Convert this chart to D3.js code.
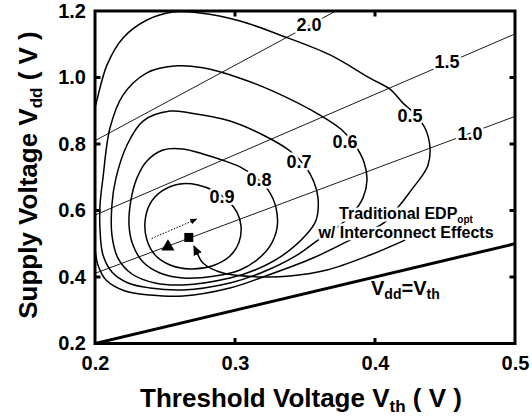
<!DOCTYPE html>
<html>
<head>
<meta charset="utf-8">
<script src="https://cdn.jsdelivr.net/npm/d3@7"></script>
<style>
  body { margin: 0; background: #fff; }
  svg text { font-family: "Liberation Sans", Arial, Helvetica, sans-serif; font-weight: bold; fill: #000; }
</style>
</head>
<body>
<svg id="chart" width="532" height="418"></svg>
<script>
// ---- axis ticks ----
const xTickValues = [0.2, 0.3, 0.4, 0.5];
const yTickValues = [0.2, 0.4, 0.6, 0.8, 1.0, 1.2];
const xInnerTicks = [0.3, 0.4];
const yInnerTicks = [0.4, 0.6, 0.8, 1.0];

// ---- normalized EDP contours, [Vth, Vdd] ----
const contourLabels = ["0.5", "0.6", "0.7", "0.8", "0.9"];
const contour05 = [
  [0.2, 0.487], [0.2021, 0.436], [0.2079, 0.391], [0.2214, 0.358], [0.2393, 0.346],
  [0.2629, 0.343], [0.2964, 0.367], [0.32, 0.400], [0.3557, 0.457], [0.3821, 0.511],
  [0.4071, 0.565], [0.4179, 0.617], [0.4271, 0.668], [0.4336, 0.704], [0.4379, 0.737],
  [0.4393, 0.788], [0.4357, 0.848], [0.4271, 0.896], [0.42, 0.923], [0.4107, 0.965],
  [0.3964, 0.998], [0.3679, 1.068], [0.3321, 1.128], [0.3036, 1.170], [0.275, 1.194],
  [0.2557, 1.197], [0.2371, 1.173], [0.22, 1.119], [0.2086, 1.038], [0.2014, 0.932],
  [0.2, 0.908]
];
const contour06 = [
  [0.2629, 0.361], [0.2393, 0.367], [0.2236, 0.382], [0.2121, 0.415], [0.2057, 0.466],
  [0.2036, 0.541], [0.2036, 0.617], [0.2057, 0.698], [0.2107, 0.848], [0.22, 0.947],
  [0.2371, 1.014], [0.2586, 1.035], [0.2771, 1.029], [0.3036, 0.998], [0.3271, 0.959],
  [0.3607, 0.887], [0.3764, 0.842], [0.3857, 0.797], [0.3921, 0.746], [0.3943, 0.692],
  [0.3914, 0.638], [0.3836, 0.589], [0.3721, 0.547], [0.3593, 0.511], [0.3443, 0.466],
  [0.32, 0.415], [0.2964, 0.382]
];
const contour07 = [
  [0.2629, 0.376], [0.2429, 0.382], [0.2264, 0.409], [0.2164, 0.457], [0.2121, 0.526],
  [0.2121, 0.617], [0.215, 0.698], [0.2229, 0.797], [0.2343, 0.869], [0.2536, 0.899],
  [0.2679, 0.893], [0.2964, 0.869], [0.32, 0.827], [0.3393, 0.779], [0.35, 0.734],
  [0.3564, 0.686], [0.3593, 0.638], [0.3579, 0.571], [0.35, 0.523], [0.3343, 0.466],
  [0.3143, 0.421], [0.2964, 0.397]
];
const contour08 = [
  [0.2629, 0.397], [0.2464, 0.412], [0.2343, 0.445], [0.2271, 0.496], [0.2243, 0.556],
  [0.2257, 0.632], [0.23, 0.698], [0.2371, 0.749], [0.2486, 0.782], [0.2629, 0.785],
  [0.2771, 0.770], [0.2907, 0.752], [0.3036, 0.731], [0.3143, 0.701], [0.3236, 0.662],
  [0.3293, 0.608], [0.33, 0.547], [0.325, 0.493], [0.3164, 0.454], [0.3036, 0.421],
  [0.2857, 0.403]
];
const contour09 = [
  [0.2679, 0.424], [0.2536, 0.436], [0.2429, 0.466], [0.2371, 0.511], [0.2357, 0.565],
  [0.2393, 0.620], [0.2479, 0.659], [0.2607, 0.680], [0.2736, 0.677], [0.285, 0.659],
  [0.295, 0.629], [0.3014, 0.595], [0.3043, 0.553], [0.3029, 0.505], [0.2964, 0.463],
  [0.2836, 0.433]
];
const contourLabelPos = [[0.425, 0.887], [0.3786, 0.806], [0.3457, 0.746], [0.3171, 0.692], [0.2907, 0.641]];

// ---- normalized delay lines ----
const delayLabels = ["2.0", "1.5", "1.0"];
const delay20 = [[0.2, 0.81], [0.372, 1.2]];
const delay15 = [[0.2, 0.586], [0.5, 1.131]];
const delay10 = [[0.2, 0.411], [0.5, 0.883]];
const delayLabelPos = [[0.3529, 1.158], [0.4514, 1.047], [0.4679, 0.833]];

// ---- Vdd = Vth boundary ----
const boundary = [[0.2, 0.2], [0.5, 0.5]];

// ---- optimum points and annotations ----
const edpOptTraditional = [0.2521, 0.494];   // triangle
const edpOptInterconnect = [0.267, 0.519];   // square
const shiftArrow = [[0.2405, 0.516], [0.2726, 0.574]];
const pointerArrow = [
  [0.4214, 0.511], [0.3964, 0.466], [0.3657, 0.421], [0.3393, 0.403], [0.32, 0.400],
  [0.2914, 0.412], [0.2771, 0.442], [0.2721, 0.481], [0.2707, 0.493]
];

const svg = d3.select("#chart");
const x = d3.scaleLinear().domain([0.2, 0.5]).range([95, 515]);
const y = d3.scaleLinear().domain([0.2, 1.2]).range([343.5, 11]);

const defs = svg.append("defs");
defs.append("clipPath").attr("id", "plotClip")
  .append("rect").attr("x", 95).attr("y", 11).attr("width", 420).attr("height", 332.5);
defs.append("marker").attr("id", "headBig")
  .attr("viewBox", "0 -5 10 10").attr("refX", 9).attr("refY", 0)
  .attr("markerWidth", 10).attr("markerHeight", 10).attr("markerUnits", "userSpaceOnUse")
  .attr("orient", "auto")
  .append("path").attr("d", "M0,-4.5L10,0L0,4.5Z").attr("fill", "#000");
defs.append("marker").attr("id", "headSmall")
  .attr("viewBox", "0 -5 10 10").attr("refX", 9).attr("refY", 0)
  .attr("markerWidth", 7).attr("markerHeight", 7).attr("markerUnits", "userSpaceOnUse")
  .attr("orient", "auto")
  .append("path").attr("d", "M0,-4L10,0L0,4Z").attr("fill", "#000");

const plot = svg.append("g").attr("clip-path", "url(#plotClip)");

const openLine = d3.line().x(d => x(d[0])).y(d => y(d[1])).curve(d3.curveCatmullRom.alpha(0.5));
const closedLine = d3.line().x(d => x(d[0])).y(d => y(d[1])).curve(d3.curveCatmullRomClosed.alpha(0.5));
const straight = d3.line().x(d => x(d[0])).y(d => y(d[1]));

// EDP contours
plot.append("path").attr("d", openLine(contour05)).attr("fill", "none").attr("stroke", "#000").attr("stroke-width", 1.5);
[contour06, contour07, contour08, contour09].forEach(c => {
  plot.append("path").attr("d", closedLine(c)).attr("fill", "none").attr("stroke", "#000").attr("stroke-width", 1.5);
});

// delay lines
[delay20, delay15, delay10].forEach(l => {
  plot.append("path").attr("d", straight(l)).attr("fill", "none").attr("stroke", "#000").attr("stroke-width", 0.9);
});

// Vdd = Vth
plot.append("path").attr("d", straight(boundary)).attr("fill", "none").attr("stroke", "#000").attr("stroke-width", 3);

// shift of the optimum (dotted arrow)
svg.append("path").attr("d", straight(shiftArrow)).attr("fill", "none").attr("stroke", "#000")
  .attr("stroke-width", 1).attr("stroke-dasharray", "1.5,1.5").attr("marker-end", "url(#headSmall)");

// optimum markers
svg.append("path").attr("d", d3.symbol().type(d3.symbolTriangle).size(75)())
  .attr("transform", `translate(${x(edpOptTraditional[0])},${y(edpOptTraditional[1]) + 1})`).attr("fill", "#000");
svg.append("rect").attr("x", x(edpOptInterconnect[0]) - 4.5).attr("y", y(edpOptInterconnect[1]) - 4.5)
  .attr("width", 9).attr("height", 9).attr("fill", "#000");

// annotation text with halo
function haloText(sel) {
  return sel.attr("stroke", "#fff").attr("stroke-width", 5).attr("stroke-linejoin", "round")
    .attr("paint-order", "stroke");
}

const annot = haloText(svg.append("text").attr("x", 406).attr("y", 219).attr("text-anchor", "middle").attr("font-size", 16));
annot.append("tspan").text("Traditional EDP");
annot.append("tspan").attr("font-size", 10).attr("dy", 4).text("opt");
haloText(svg.append("text").attr("x", 406).attr("y", 238).attr("text-anchor", "middle").attr("font-size", 16))
  .text("w/ Interconnect Effects");

// pointer arrow
svg.append("path").attr("d", openLine(pointerArrow)).attr("fill", "none").attr("stroke", "#000")
  .attr("stroke-width", 1.5).attr("marker-end", "url(#headBig)");

// contour labels
contourLabels.forEach((t, i) => {
  haloText(svg.append("text").attr("x", x(contourLabelPos[i][0])).attr("y", y(contourLabelPos[i][1]))
    .attr("dy", "0.36em").attr("text-anchor", "middle").attr("font-size", 18)).text(t);
});
delayLabels.forEach((t, i) => {
  haloText(svg.append("text").attr("x", x(delayLabelPos[i][0])).attr("y", y(delayLabelPos[i][1]))
    .attr("dy", "0.36em").attr("text-anchor", "middle").attr("font-size", 18)).text(t);
});

// Vdd = Vth label
const bl = svg.append("text").attr("x", 371).attr("y", 295).attr("font-size", 20);
bl.append("tspan").text("V");
bl.append("tspan").attr("font-size", 14).attr("dy", 4).text("dd");
bl.append("tspan").attr("dy", -4).text("=V");
bl.append("tspan").attr("font-size", 14).attr("dy", 4).text("th");

// axes
const axB = svg.append("g").attr("transform", "translate(0,343.5)")
  .call(d3.axisBottom(x).tickValues(xTickValues).tickFormat(d3.format(".1f")).tickSize(0).tickPadding(12.5));
const axL = svg.append("g").attr("transform", "translate(95,0)")
  .call(d3.axisLeft(y).tickValues(yTickValues).tickFormat(d3.format(".1f")).tickSize(0).tickPadding(9));
[axB, axL].forEach(a => {
  a.select(".domain").remove();
  a.selectAll("text").attr("font-size", 20).attr("font-family", null);
});

// inward ticks on all four sides
const tickG = svg.append("g").attr("stroke", "#000").attr("stroke-width", 3);
xInnerTicks.forEach(v => {
  tickG.append("line").attr("x1", x(v)).attr("x2", x(v)).attr("y1", 343.5).attr("y2", 338);
  tickG.append("line").attr("x1", x(v)).attr("x2", x(v)).attr("y1", 11).attr("y2", 16.5);
});
yInnerTicks.forEach(v => {
  tickG.append("line").attr("y1", y(v)).attr("y2", y(v)).attr("x1", 95).attr("x2", 100.5);
  tickG.append("line").attr("y1", y(v)).attr("y2", y(v)).attr("x1", 515).attr("x2", 509.5);
});

// frame
svg.append("rect").attr("x", 95).attr("y", 11).attr("width", 420).attr("height", 332.5)
  .attr("fill", "none").attr("stroke", "#000").attr("stroke-width", 3);

// axis titles
const xt = svg.append("text").attr("x", 301).attr("y", 407).attr("text-anchor", "middle").attr("font-size", 26);
xt.append("tspan").text("Threshold Voltage V");
xt.append("tspan").attr("font-size", 17).attr("dy", 5).text("th");
xt.append("tspan").attr("dy", -5).text(" ( V )");

const yt = svg.append("text").attr("transform", "translate(37,175) rotate(-90)").attr("text-anchor", "middle").attr("font-size", 26);
yt.append("tspan").text("Supply Voltage  V");
yt.append("tspan").attr("font-size", 17).attr("dy", 5).text("dd");
yt.append("tspan").attr("dy", -5).text(" ( V )");
</script>
</body>
</html>
